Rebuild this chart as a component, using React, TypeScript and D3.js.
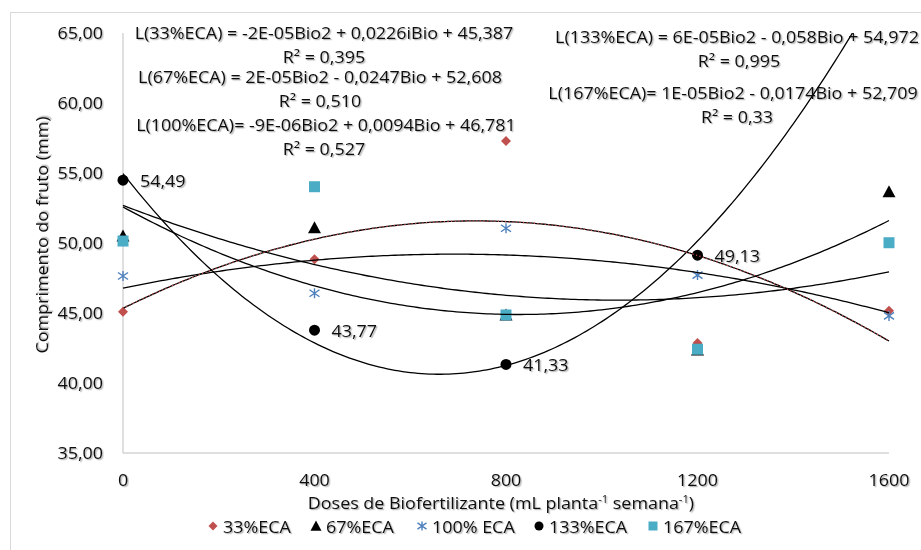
import React from 'react';
import * as d3 from 'd3';

// doses of biofertilizer (x) and fruit length per irrigation level (y)
const doses = [0, 400, 800, 1200, 1600];
const eca33 = [45.09, 48.84, 57.29, 42.86, 45.16];
const eca67 = [50.5, 51.09, 44.86, 42.36, 53.66];
const eca100 = [47.64, 46.41, 51.05, 47.71, 44.79];
const eca133 = [54.49, 43.77, 41.33, 49.13, 70.0];
const eca167 = [50.14, 54.02, 44.86, 42.41, 50.02];

const yTicks = [35, 40, 45, 50, 55, 60, 65];
const xTicks = [0, 400, 800, 1200, 1600];

const eqLeft = [
  'L(33%ECA) = -2E-05Bio2 + 0,0226iBio + 45,387',
  'R² = 0,395',
  'L(67%ECA) = 2E-05Bio2 - 0,0247Bio + 52,608',
  'R² = 0,510',
  'L(100%ECA)= -9E-06Bio2 + 0,0094Bio + 46,781',
  'R² = 0,527',
];
const eqRight = [
  'L(133%ECA) = 6E-05Bio2 - 0,058Bio + 54,972',
  'R² = 0,995',
  'L(167%ECA)= 1E-05Bio2 - 0,0174Bio + 52,709',
  'R² = 0,33',
];

const W = 921;
const H = 550;
const FONT = '"Open Sans", sans-serif';
const SX = 1.12; // the original chart is stretched a bit horizontally

const x = d3.scaleLinear().domain([0, 1600]).range([123, 889]);
const y = d3.scaleLinear().domain([35, 65]).range([453, 33]);
const fmt = (v: number) => d3.format('.2f')(v).replace('.', ',');

// least squares quadratic, like Excel's polynomial trendline
function polyfit2(xs: number[], ys: number[]) {
  const s = [0, 0, 0, 0, 0];
  const t = [0, 0, 0];
  xs.forEach((xv, i) => {
    for (let k = 0; k < 5; k++) s[k] += Math.pow(xv, k);
    for (let k = 0; k < 3; k++) t[k] += Math.pow(xv, k) * ys[i];
  });
  const m = [
    [s[0], s[1], s[2], t[0]],
    [s[1], s[2], s[3], t[1]],
    [s[2], s[3], s[4], t[2]],
  ];
  for (let i = 0; i < 3; i++) {
    for (let j = i + 1; j < 3; j++) {
      const f = m[j][i] / m[i][i];
      for (let k = i; k < 4; k++) m[j][k] -= f * m[i][k];
    }
  }
  const c = [0, 0, 0];
  for (let i = 2; i >= 0; i--) {
    let v = m[i][3];
    for (let k = i + 1; k < 3; k++) v -= m[i][k] * c[k];
    c[i] = v / m[i][i];
  }
  return (xv: number) => c[0] + c[1] * xv + c[2] * xv * xv;
}

const samples = d3.range(0, 1601, 8);
const line = d3
  .line<number[]>()
  .x((d) => x(d[0]))
  .y((d) => y(d[1]));

function trend(vals: number[]) {
  const f = polyfit2(doses, vals);
  return line(samples.map((s) => [s, f(s)])) || '';
}

const Diamond = ({ cx, cy, s = 5 }: any) => (
  <path d={`M${cx},${cy - s}L${cx + s},${cy}L${cx},${cy + s}L${cx - s},${cy}Z`} fill="#C0504D" />
);
const Triangle = ({ cx, cy, s = 6.5 }: any) => (
  <path d={`M${cx},${cy - s}L${cx + s},${cy + s * 0.85}L${cx - s},${cy + s * 0.85}Z`} fill="#000" />
);
const Star = ({ cx, cy, s = 5 }: any) => (
  <path
    d={`M${cx},${cy - s}V${cy + s}M${cx - s},${cy - s * 0.7}L${cx + s},${cy + s * 0.7}M${cx - s},${cy + s * 0.7}L${cx + s},${cy - s * 0.7}`}
    stroke="#4F81BD"
    strokeWidth={1.4}
    fill="none"
  />
);
const Dot = ({ cx, cy, s = 5.5 }: any) => <circle cx={cx} cy={cy} r={s} fill="#000" />;
const Square = ({ cx, cy, s = 5.5 }: any) => (
  <rect x={cx - s} y={cy - s} width={s * 2} height={s * 2} fill="#4BACC6" />
);

const series = [
  { name: '33%ECA', vals: eca33, M: Diamond },
  { name: '67%ECA', vals: eca67, M: Triangle },
  { name: '100% ECA', vals: eca100, M: Star },
  { name: '133%ECA', vals: eca133, M: Dot },
  { name: '167%ECA', vals: eca167, M: Square },
];
const legendX = [213, 316, 422, 539, 653];

// text with the horizontal stretch of the original picture
const T = ({ x: tx, y: ty, anchor = 'start', size = 16, rotate = 0, children }: any) => (
  <text
    transform={`translate(${tx},${ty}) rotate(${rotate}) scale(${SX},1)`}
    dy="0.35em"
    textAnchor={anchor}
    fontSize={size}
    fontFamily={FONT}
    fill="#111"
    filter="url(#shadow)"
  >
    {children}
  </text>
);

export default function App() {
  return (
    <svg width={W} height={H} style={{ position: 'absolute', left: 0, top: 0, background: '#fff' }}>
      <defs>
        <filter id="shadow" x="-5%" y="-20%" width="110%" height="150%">
          <feDropShadow dx="1.2" dy="1.2" stdDeviation="0.7" floodColor="#000" floodOpacity="0.3" />
        </filter>
        <clipPath id="plot">
          <rect x={x(0) - 10} y={y(65)} width={x(1600) - x(0) + 20} height={y(35) - y(65)} />
        </clipPath>
      </defs>
      <rect x={10.5} y={12.5} width={W} height={H} fill="none" stroke="#d9d9d9" />

      {/* axes */}
      <line x1={x(0)} x2={x(0)} y1={y(65)} y2={y(35)} stroke="#bfbfbf" />
      <line x1={x(0)} x2={x(1600)} y1={y(35)} y2={y(35)} stroke="#bfbfbf" />
      {yTicks.map((t) => (
        <T key={t} x={103} y={y(t)} anchor="end">
          {fmt(t)}
        </T>
      ))}
      {xTicks.map((t) => (
        <T key={t} x={x(t)} y={480} anchor="middle">
          {t}
        </T>
      ))}
      <text
        transform={`translate(42,${(y(35) + y(65)) / 2 - 8}) rotate(-90) scale(${SX},1)`}
        dy="0.35em"
        textAnchor="middle"
        fontSize={16}
        fontFamily={FONT}
        fill="#111"
        filter="url(#shadow)"
      >
        Comprimento do fruto (mm)
      </text>
      <T x={501} y={503} anchor="middle">
        Doses de Biofertilizante (mL planta
        <tspan dy={-6} fontSize={10}>-1</tspan>
        <tspan dy={6}> semana</tspan>
        <tspan dy={-6} fontSize={10}>-1</tspan>
        <tspan dy={6}>)</tspan>
      </T>

      {/* markers */}
      <g clipPath="url(#plot)">
        {series.map(({ name, vals, M }) => (
          <g key={name}>
            {vals.map((v, i) => (
              <M key={i} cx={x(doses[i])} cy={y(v)} />
            ))}
          </g>
        ))}
        {/* trendlines */}
        {series.map(({ name, vals }) => (
          <path key={name} d={trend(vals)} fill="none" stroke="#000" strokeWidth={1.3} />
        ))}
        <path d={trend(eca33)} fill="none" stroke="#C0504D" strokeWidth={1.4} strokeDasharray="1.2 2.4" />
      </g>

      {/* data labels of 133%ECA */}
      {eca133
        .map((v, i) => ({ v, i }))
        .filter((d) => d.v <= 65)
        .map(({ v, i }) => (
          <T key={i} x={x(doses[i]) + 17} y={y(v) + 1}>
            {fmt(v)}
          </T>
        ))}

      {/* regression equations */}
      {eqLeft.map((s, i) => (
        <T key={s} x={[324, 324, 320, 320, 326, 324][i]} y={[33, 57, 77, 101, 125, 149][i]} anchor="middle">
          {s}
        </T>
      ))}
      {eqRight.map((s, i) => (
        <T key={s} x={[737, 739, 733, 737][i]} y={[37, 61, 93, 117][i]} anchor="middle">
          {s}
        </T>
      ))}

      {/* legend */}
      {series.map(({ name, M }, i) => (
        <g key={name}>
          <M cx={legendX[i]} cy={526} s={name.startsWith('67') ? 5.5 : 4.5} />
          <T x={legendX[i] + 10} y={527}>
            {name}
          </T>
        </g>
      ))}
    </svg>
  );
}
